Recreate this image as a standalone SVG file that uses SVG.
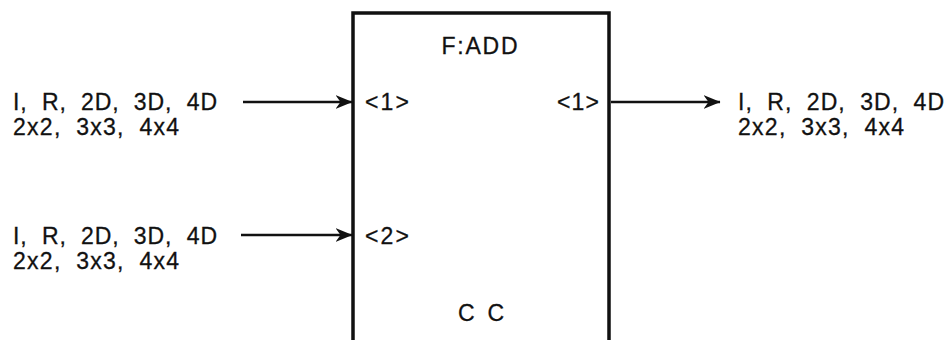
<svg xmlns="http://www.w3.org/2000/svg" width="948" height="340" viewBox="0 0 948 340">
<style>
text{font-family:"Liberation Sans",Arial,sans-serif;font-size:23px;fill:#111;letter-spacing:1px;word-spacing:7px;stroke:#111;stroke-width:0.3px;}
.ln{stroke:#111;stroke-width:2.4;fill:none;}
.box{stroke:#111;stroke-width:3.5;fill:#fff;}
</style>
<defs>
<marker id="ah" viewBox="0 0 17 14" refX="16.5" refY="7" markerWidth="17" markerHeight="14" markerUnits="userSpaceOnUse" orient="auto">
<path d="M0,0 L17,7 L0,14 L5,7 Z" fill="#111"/>
</marker>
</defs>
<g id="node-add">
<path class="box" d="M353,345 L353,13 L609,13 L609,345"/>
<text x="480" y="54" text-anchor="middle" textLength="77" lengthAdjust="spacing">F:ADD</text>
<text x="365" y="110" textLength="45" lengthAdjust="spacing">&lt;1&gt;</text>
<text x="365" y="244" textLength="45" lengthAdjust="spacing">&lt;2&gt;</text>
<text x="557" y="110" textLength="43" lengthAdjust="spacing">&lt;1&gt;</text>
<text x="458" y="321" textLength="47" lengthAdjust="spacing">C C</text>
</g>
<g id="input1">
<text x="13" y="110" textLength="205" lengthAdjust="spacing">I, R, 2D, 3D, 4D</text>
<text x="13" y="135" textLength="167" lengthAdjust="spacing">2x2, 3x3, 4x4</text>
</g>
<g id="input2">
<text x="13" y="244" textLength="205" lengthAdjust="spacing">I, R, 2D, 3D, 4D</text>
<text x="13" y="269" textLength="167" lengthAdjust="spacing">2x2, 3x3, 4x4</text>
</g>
<g id="output1">
<text x="738" y="110" textLength="207" lengthAdjust="spacing">I, R, 2D, 3D, 4D</text>
<text x="738" y="135" textLength="167" lengthAdjust="spacing">2x2, 3x3, 4x4</text>
</g>
<g id="connectors">
<line class="ln" x1="243" y1="102" x2="352" y2="102" marker-end="url(#ah)"/>
<line class="ln" x1="241" y1="235" x2="352" y2="235" marker-end="url(#ah)"/>
<line class="ln" x1="611" y1="102" x2="720" y2="102" marker-end="url(#ah)"/>
</g>
</svg>
